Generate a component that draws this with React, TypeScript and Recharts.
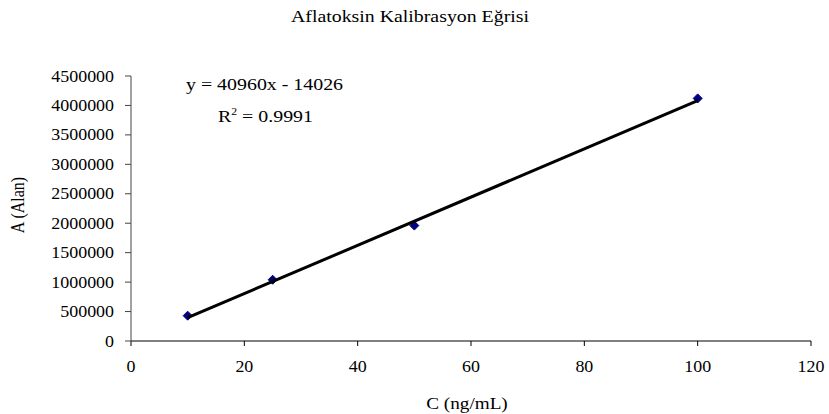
import { ComposedChart, Scatter, XAxis, YAxis } from "recharts";

const concentrations = [10, 25, 50, 100];
const areas = [430000, 1040000, 1960000, 4120000];
const xTicks = [0, 20, 40, 60, 80, 100, 120];
const yTicks = [0, 500000, 1000000, 1500000, 2000000, 2500000, 3000000, 3500000, 4000000, 4500000];
const slope = 40960;
const intercept = -14026;
const trendRange = [10, 100];
const chartTitle = "Aflatoksin Kalibrasyon Eğrisi";
const equation = "y = 40960x - 14026";
const rSquared = "0.9991";

const points = concentrations.map((c, i) => ({ x: c, y: areas[i] }));
const trend = trendRange.map((x) => ({ x, y: slope * x + intercept }));

const font = '"Liberation Serif", "Times New Roman", serif';

// excel picture is stretched sideways a bit, so text gets a horizontal scale
const Stretched = ({ x, y, sx, size, anchor, children }: any) => (
    <text
        transform={`translate(${x},${y}) scale(${sx},1)`}
        textAnchor={anchor}
        fontSize={size}
        fontFamily={font}
        fill="#000"
    >
        {children}
    </text>
);

const YTick = (props: any) => {
    const { x, y, payload } = props;
    return (
        <g transform={`translate(${x},${y}) scale(1.12,1)`}>
            <text textAnchor="end" dy="0.35em" fontSize={16} fontFamily={font} fill="#000">
                {payload.value}
            </text>
        </g>
    );
};

const XTick = (props: any) => {
    const { x, y, payload } = props;
    return (
        <g transform={`translate(${x},${y}) scale(1.12,1)`}>
            <text textAnchor="middle" dy="0.71em" fontSize={16} fontFamily={font} fill="#000">
                {payload.value}
            </text>
        </g>
    );
};

const Diamond = (props: any) => {
    const { cx, cy } = props;
    if (cx == null || cy == null) return null;
    const r = 4.5;
    return (
        <path
            d={`M${cx},${cy - r} L${cx + r},${cy} L${cx},${cy + r} L${cx - r},${cy} Z`}
            fill="#000080"
            stroke="#000080"
        />
    );
};

const App = () => {
    return (
        <div style={{ position: "absolute", left: 0, top: 0, width: 829, height: 414, background: "#fff" }}>
            <ComposedChart
                width={829}
                height={414}
                margin={{ top: 76, right: 18, bottom: 0, left: 0 }}
            >
                <XAxis
                    type="number"
                    dataKey="x"
                    domain={[0, 120]}
                    ticks={xTicks}
                    interval={0}
                    stroke="#000"
                    tickSize={5}
                    tickMargin={15}
                    tick={<XTick />}
                    height={73}
                />
                <YAxis
                    type="number"
                    dataKey="y"
                    domain={[0, 4500000]}
                    ticks={yTicks}
                    interval={0}
                    stroke="#444"
                    width={131}
                    tickSize={6}
                    tickMargin={11}
                    tick={<YTick />}
                />
                <Scatter data={points} shape={<Diamond />} isAnimationActive={false} />
                <Scatter
                    data={trend}
                    line={{ stroke: "#000", strokeWidth: 3 }}
                    shape={() => <g />}
                    isAnimationActive={false}
                />
            </ComposedChart>
            <svg width={829} height={414} style={{ position: "absolute", left: 0, top: 0, pointerEvents: "none" }}>
                <Stretched x={410} y={22} sx={1.24} size={16} anchor="middle">{chartTitle}</Stretched>
                <Stretched x={186} y={90} sx={1.17} size={17} anchor="start">{equation}</Stretched>
                <Stretched x={218} y={122} sx={1.17} size={17} anchor="start">
                    R<tspan dy={-7} fontSize={10}>2</tspan><tspan dy={7}> = {rSquared}</tspan>
                </Stretched>
                <Stretched x={467} y={409} sx={1.2} size={16} anchor="middle">C (ng/mL)</Stretched>
                <g transform="translate(24,205) rotate(-90)">
                    <g transform="scale(1,1.2)">
                        <text textAnchor="middle" fontSize={16} fontFamily={font} fill="#000">A (Alan)</text>
                    </g>
                </g>
            </svg>
        </div>
    );
};

export default App;
